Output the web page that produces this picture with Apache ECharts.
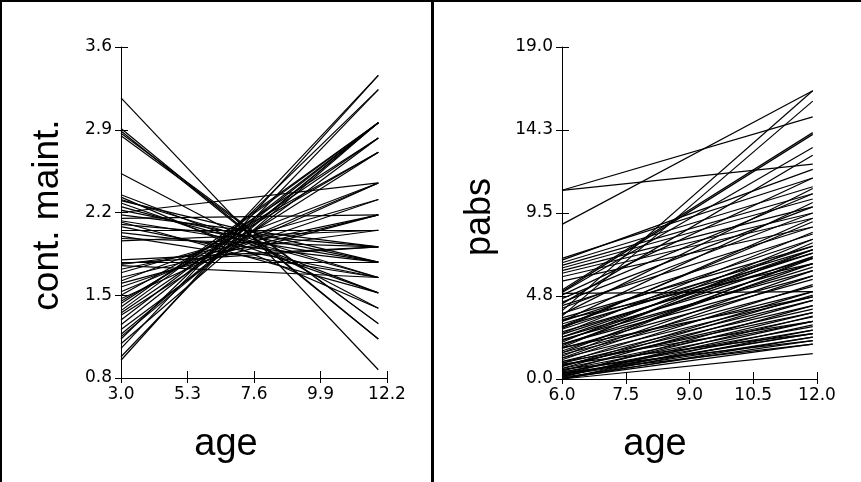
<!DOCTYPE html>
<html>
<head>
<meta charset="utf-8">
<script src="https://cdn.jsdelivr.net/npm/echarts@6/dist/echarts.min.js"></script>
<style>
  html, body { margin: 0; padding: 0; background: #fff; }
  #chart { width: 861px; height: 482px; }
</style>
</head>
<body>
<div id="chart"></div>
<script>
// left panel: cont. maint. by age, one segment per child
const leftAgeFrom = 3.0;
const leftAgeTo = 11.9;
const leftStart = [3.17, 2.91, 2.89, 2.87, 2.85, 2.53,
  2.35, 2.33, 2.31, 2.28, 2.25, 2.22,
  2.20, 2.18, 2.15, 2.13, 2.10, 2.08,
  2.05, 2.03, 1.98, 1.96,
  1.78, 1.77, 1.76, 1.75,
  1.72, 1.69, 1.65, 1.62, 1.57, 1.53,
  1.50, 1.47, 1.43, 1.40, 1.37, 1.33,
  1.29, 1.25, 1.21, 1.17, 1.13, 1.09,
  1.05, 0.98, 0.95,
  2.30, 2.12, 1.80, 1.60, 1.45, 1.35, 1.15, 2.00];
const leftEnd = [0.87, 1.13, 1.13, 1.26, 1.26, 1.39,
  1.52, 1.39, 1.65, 1.52, 1.65, 1.78,
  2.45, 1.91, 2.18, 1.78, 1.91, 1.65,
  2.05, 1.78, 1.91, 2.05,
  1.78, 1.91, 2.05, 1.65,
  2.18, 2.31, 2.18, 2.45, 2.31, 2.45,
  2.71, 2.45, 2.83, 2.96, 2.96, 2.71,
  2.96, 2.96, 2.83, 2.96, 3.24, 2.96,
  3.36, 3.24, 3.36,
  1.78, 1.52, 1.91, 2.18, 2.71, 2.83, 2.96, 1.65];

// right panel: pabs by age
const rightAgeFrom = 6.0;
const rightAgeTo = 11.9;
const rightStart = [10.8, 10.8, 8.85, 3.9, 3.6,
  6.9, 6.8, 6.65, 6.5, 6.35, 6.2, 6.05, 5.85, 5.6,
  5.1, 5.0, 4.95, 4.9, 4.8,
  4.6, 4.4, 4.2, 4.05, 3.75, 3.5, 3.3, 3.15, 3.0, 2.85,
  2.7, 2.55, 2.4, 2.25, 2.1, 2.0, 1.9, 1.75, 1.6, 1.5,
  1.4, 1.3, 1.2, 1.1, 1.0, 0.9, 0.8, 0.7, 0.6, 0.5,
  0.45, 0.4, 0.3, 0.25, 0.2, 0.15, 0.1, 0.05, 0.0, 0.0,
  0.0, 0.35, 2.9, 3.4, 1.8, 0.55, 0.85,
  0.0, 0.1, 0.2, 0.3, 0.6, 0.9, 1.2, 1.5, 1.8, 2.2,
  2.6, 3.0, 3.3, 3.7, 4.3, 1.0, 0.4, 2.0, 2.4, 0.75];
const rightEnd = [12.3, 15.0, 16.5, 16.5, 15.9,
  11.5, 12.0, 11.0, 10.6, 10.3, 9.85, 9.5, 9.2, 8.7,
  14.1, 14.0, 13.25, 5.0, 11.5,
  10.6, 9.85, 8.7, 9.5, 8.3, 7.6, 8.0, 7.4, 7.2, 7.6,
  6.9, 7.2, 6.6, 6.2, 8.0, 5.9, 7.4, 5.7, 6.6, 5.3,
  5.0, 7.0, 4.7, 5.9, 4.5, 4.2, 3.8, 5.0, 3.55, 3.3,
  4.5, 2.8, 3.8, 2.6, 2.4, 3.3, 2.2, 2.0, 1.45, 2.8,
  2.4, 2.0, 9.2, 6.6, 4.7, 2.2, 2.6,
  3.1, 3.6, 4.2, 2.6, 4.8, 5.4, 6.2, 6.9, 7.8, 7.0,
  8.4, 9.0, 10.1, 10.9, 12.8, 3.3, 3.0, 6.4, 7.4, 4.0];

// tick labels
const leftXTicks = [3.0, 5.3, 7.6, 9.9, 12.2];
const leftYTicks = [0.8, 1.5, 2.2, 2.9, 3.6];
const rightXTicks = [6.0, 7.5, 9.0, 10.5, 12.0];
const rightYTicks = [0, 4.75, 9.5, 14.25, 19];

const black = '#000';
const labelFont = { color: black, fontFamily: 'DejaVu Sans', fontSize: 17 };
const fmt = v => v.toFixed(1);

function mainX(grid, min, max, ticks) {
  return {
    type: 'value', gridIndex: grid, min: min, max: max, position: 'bottom',
    axisLine: { lineStyle: { color: black, width: 1 } },
    axisTick: { customValues: ticks, length: 5, lineStyle: { color: black } },
    axisLabel: Object.assign({ customValues: ticks, formatter: fmt, margin: 8 }, labelFont),
    splitLine: { show: false }
  };
}
function mainY(grid, min, max, ticks) {
  return {
    type: 'value', gridIndex: grid, min: min, max: max, position: 'left',
    axisLine: { show: true, lineStyle: { color: black, width: 1 } },
    axisTick: { show: true, customValues: ticks, length: 6, lineStyle: { color: black } },
    axisLabel: Object.assign({ customValues: ticks, formatter: fmt, margin: 9 }, labelFont),
    splitLine: { show: false }
  };
}
// second copy of each axis only for the inner half of the ticks
function innerAxis(grid, min, max, ticks, len) {
  return {
    type: 'value', gridIndex: grid, min: min, max: max,
    axisLine: { show: false },
    axisTick: { show: true, inside: true, customValues: ticks, length: len, lineStyle: { color: black } },
    axisLabel: { show: false },
    splitLine: { show: false }
  };
}

const chart = echarts.init(document.getElementById('chart'));

const option = {
  backgroundColor: '#fff',
  animation: false,
  grid: [
    { left: 121, top: 47, width: 266, height: 331 },
    { left: 562, top: 47, width: 255, height: 332 },
    { left: 121, top: 47, width: 266, height: 331 },
    { left: 562, top: 47, width: 255, height: 332 }
  ],
  xAxis: [
    mainX(0, 3.0, 12.2, leftXTicks),
    mainX(1, 6.0, 12.0, rightXTicks),
    innerAxis(2, 3.0, 12.2, leftXTicks, 7),
    innerAxis(3, 6.0, 12.0, rightXTicks, 7)
  ],
  yAxis: [
    mainY(0, 0.8, 3.6, leftYTicks),
    mainY(1, 0, 19, rightYTicks),
    innerAxis(2, 0.8, 3.6, leftYTicks, 7),
    innerAxis(3, 0, 19, rightYTicks, 7)
  ],
  series: [
    {
      type: 'lines', coordinateSystem: 'cartesian2d', xAxisIndex: 0, yAxisIndex: 0,
      silent: true,
      lineStyle: { color: black, width: 1.2, opacity: 1 },
      data: leftStart.map((s, i) => ({ coords: [[leftAgeFrom, s], [leftAgeTo, leftEnd[i]]] }))
    },
    {
      type: 'lines', coordinateSystem: 'cartesian2d', xAxisIndex: 1, yAxisIndex: 1,
      silent: true,
      lineStyle: { color: black, width: 1.2, opacity: 1 },
      data: rightStart.map((s, i) => ({ coords: [[rightAgeFrom, s], [rightAgeTo, rightEnd[i]]] }))
    }
  ],
  graphic: [
    // panel frame
    { type: 'rect', shape: { x: 0, y: 0, width: 861, height: 2 }, style: { fill: black }, silent: true },
    { type: 'rect', shape: { x: 0, y: 0, width: 2, height: 482 }, style: { fill: black }, silent: true },
    { type: 'rect', shape: { x: 431, y: 0, width: 3, height: 482 }, style: { fill: black }, silent: true },
    // axis titles
    { type: 'text', x: 48, y: 215, rotation: Math.PI / 2,
      style: { text: 'cont. maint.', font: '37px "Liberation Sans"', fill: black, textAlign: 'center', textVerticalAlign: 'middle' } },
    { type: 'text', x: 480, y: 217, rotation: Math.PI / 2,
      style: { text: 'pabs', font: '36px "Liberation Sans"', fill: black, textAlign: 'center', textVerticalAlign: 'middle' } },
    { type: 'text', x: 226, y: 445,
      style: { text: 'age', font: '38px "Liberation Sans"', fill: black, textAlign: 'center', textVerticalAlign: 'middle' } },
    { type: 'text', x: 655, y: 445,
      style: { text: 'age', font: '38px "Liberation Sans"', fill: black, textAlign: 'center', textVerticalAlign: 'middle' } }
  ]
};

chart.setOption(option);
</script>
</body>
</html>
